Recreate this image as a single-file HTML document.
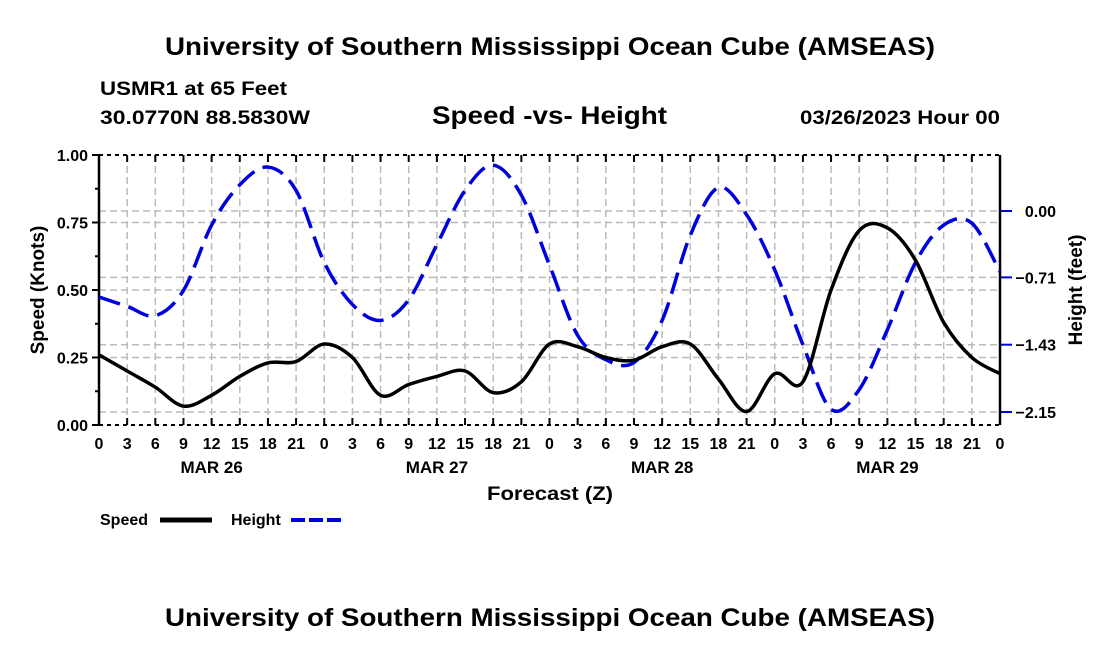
<!DOCTYPE html>
<html><head><meta charset="utf-8"><style>
body{margin:0;background:#fff;}
svg{display:block;font-family:"Liberation Sans",Arial,sans-serif;font-weight:bold;}
</style></head><body>
<svg id="c" width="1100" height="650">
<text x="165" y="55" textLength="770" lengthAdjust="spacingAndGlyphs" font-size="25">University of Southern Mississippi Ocean Cube (AMSEAS)</text>
<text x="100" y="95" textLength="187" lengthAdjust="spacingAndGlyphs" font-size="19">USMR1 at 65 Feet</text>
<text x="100" y="124" textLength="210" lengthAdjust="spacingAndGlyphs" font-size="19">30.0770N  88.5830W</text>
<text x="432" y="124" textLength="235" lengthAdjust="spacingAndGlyphs" font-size="25">Speed -vs- Height</text>
<text x="800" y="124" textLength="200" lengthAdjust="spacingAndGlyphs" font-size="19">03/26/2023 Hour 00</text>
<text x="165" y="626" textLength="770" lengthAdjust="spacingAndGlyphs" font-size="25">University of Southern Mississippi Ocean Cube (AMSEAS)</text>
<text x="487" y="500" textLength="126" lengthAdjust="spacingAndGlyphs" font-size="19">Forecast (Z)</text>
<text transform="translate(44,290) rotate(-90)" text-anchor="middle" font-size="19">Speed (Knots)</text>
<text transform="translate(1082,290) rotate(-90)" text-anchor="middle" font-size="19">Height (feet)</text>
<g id="grid"></g><g id="axes"></g><g id="series"></g>
<text x="100" y="525" font-size="16">Speed</text>
<line x1="160" y1="520" x2="212" y2="520" stroke="#000" stroke-width="5"/>
<text x="231" y="525" font-size="16">Height</text>
<line x1="291" y1="520" x2="343" y2="520" stroke="#0000dd" stroke-width="4" stroke-dasharray="14,4"/>
</svg>
<script>
const hours=[0,3,6,9,12,15,18,21,24,27,30,33,36,39,42,45,48,51,54,57,60,63,66,69,72,75,78,81,84,87,90,93,96];
const speed=[0.26,0.20,0.14,0.07,0.11,0.18,0.23,0.235,0.30,0.25,0.11,0.15,0.18,0.20,0.12,0.16,0.30,0.29,0.25,0.24,0.29,0.30,0.17,0.05,0.19,0.16,0.50,0.72,0.73,0.61,0.38,0.25,0.19];
const height=[-0.92,-1.02,-1.12,-0.85,-0.15,0.28,0.47,0.22,-0.55,-1.0,-1.17,-0.95,-0.36,0.22,0.49,0.17,-0.58,-1.33,-1.59,-1.62,-1.17,-0.26,0.25,-0.04,-0.63,-1.43,-2.12,-1.91,-1.27,-0.55,-0.15,-0.13,-0.65];
const speedTicks=[0,0.25,0.5,0.75,1.0];
const heightTicks=[0,-0.71,-1.43,-2.15];
const hourLabels=["0","3","6","9","12","15","18","21"];
const dayLabels=["MAR 26","MAR 27","MAR 28","MAR 29"];
const X0=99,X1=1000,Y0=425,Y1=155;
const xs=h=>X0+(X1-X0)*h/96;
const ys=v=>Y0-(Y0-Y1)*v;
const yh=h=>211-h*93.5;
const NS="http://www.w3.org/2000/svg";
function mk(p,t,a){const e=document.createElementNS(NS,t);for(const k in a)e.setAttribute(k,a[k]);p.appendChild(e);return e;}
const G=document.getElementById('grid'),A=document.getElementById('axes'),S=document.getElementById('series');
for(let h=3;h<96;h+=3){const l=mk(G,'line',{x1:xs(h),y1:Y1,x2:xs(h),y2:Y0,stroke:'#bbb','stroke-width':1.5,'stroke-dasharray':'7,4'});

}
speedTicks.forEach(v=>{if(v>0&&v<1){const l=mk(G,'line',{x1:X0,y1:ys(v),x2:X1,y2:ys(v),stroke:'#bbb','stroke-width':1.5,'stroke-dasharray':'7,4'});

}
const t=mk(A,'text',{x:X0-11,y:ys(v)+6,'text-anchor':'end','font-size':16});t.textContent=v.toFixed(2);


mk(A,'line',{x1:X0-7,y1:ys(v),x2:X0,y2:ys(v),stroke:'#000','stroke-width':2});});
for(let v=0.125;v<1;v+=0.25)mk(A,'line',{x1:X0-4,y1:ys(v),x2:X0,y2:ys(v),stroke:'#000','stroke-width':2});
heightTicks.forEach(h=>{const l=mk(G,'line',{x1:X0,y1:yh(h),x2:X1,y2:yh(h),stroke:'#bbb','stroke-width':1.5,'stroke-dasharray':'7,4'});


mk(A,'line',{x1:X1,y1:yh(h),x2:X1+12,y2:yh(h),stroke:'#0000dd','stroke-width':2});
const t=mk(A,'text',{x:1056,y:yh(h)+6,'text-anchor':'end','font-size':16});t.textContent=h.toFixed(2).replace('-','\u2212');

});
mk(A,'line',{x1:X0,y1:Y1,x2:X0,y2:Y0,stroke:'#000','stroke-width':2.5});
mk(A,'line',{x1:X1,y1:Y1,x2:X1,y2:Y0,stroke:'#000','stroke-width':2.5});
mk(A,'line',{x1:X0,y1:Y1,x2:X1,y2:Y1,stroke:'#000','stroke-width':2,'stroke-dasharray':'4,4'});
mk(A,'line',{x1:X0,y1:Y0,x2:X1,y2:Y0,stroke:'#000','stroke-width':2,'stroke-dasharray':'4,4'});
for(let h=0;h<=96;h+=3){mk(A,'line',{x1:xs(h),y1:Y0,x2:xs(h),y2:Y0-7,stroke:'#000','stroke-width':2});mk(A,'line',{x1:xs(h),y1:Y1,x2:xs(h),y2:Y1+7,stroke:'#000','stroke-width':2});
const t=mk(A,'text',{x:xs(h),y:Y0+24,'text-anchor':'middle','font-size':16});t.textContent=hourLabels[(h/3)%8];

}
dayLabels.forEach((d,i)=>{const t=mk(A,'text',{x:xs(12+24*i),y:Y0+48,'text-anchor':'middle','font-size':17});t.textContent=d;

});
function path(pts){let d='M'+pts[0][0]+','+pts[0][1];for(let i=0;i<pts.length-1;i++){const p0=pts[Math.max(i-1,0)],p1=pts[i],p2=pts[i+1],p3=pts[Math.min(i+2,pts.length-1)];
d+=' C'+(p1[0]+(p2[0]-p0[0])/6)+','+(p1[1]+(p2[1]-p0[1])/6)+' '+(p2[0]-(p3[0]-p1[0])/6)+','+(p2[1]-(p3[1]-p1[1])/6)+' '+p2[0]+','+p2[1];}return d;}
const hp=mk(S,'path',{d:path(hours.map((h,i)=>[xs(h),yh(height[i])])),fill:'none',stroke:'#0000dd','stroke-width':3.5,'stroke-dasharray':'22,9'});


const sp=mk(S,'path',{d:path(hours.map((h,i)=>[xs(h),ys(speed[i])])),fill:'none',stroke:'#000','stroke-width':3.5});


</script>
</body></html>
